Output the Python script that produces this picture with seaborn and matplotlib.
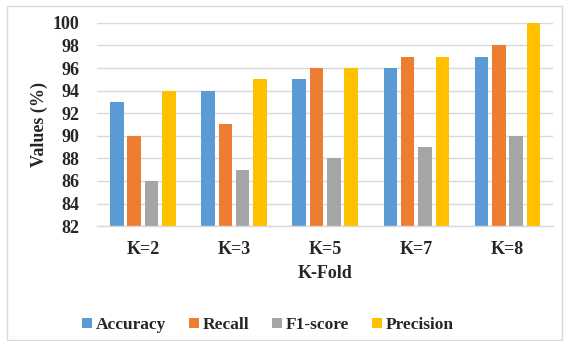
import matplotlib
matplotlib.use("Agg")
import matplotlib.pyplot as plt
import seaborn as sns
import pandas as pd
from matplotlib.patches import Rectangle

categories = ["K=2", "K=3", "K=5", "K=7", "K=8"]
accuracy = [93, 94, 95, 96, 97]
recall = [90, 91, 96, 97, 98]
f1_score = [86, 87, 88, 89, 90]
precision = [94, 95, 96, 97, 100]
series_names = ["Accuracy", "Recall", "F1-score", "Precision"]
colors = ["#5B9BD5", "#ED7D31", "#A5A5A5", "#FFC000"]

rows = []
for name, vals in zip(series_names, [accuracy, recall, f1_score, precision]):
    for c, v in zip(categories, vals):
        rows.append({"K": c, "Metric": name, "Value": v})
df = pd.DataFrame(rows)

sns.set_theme(style="white")
plt.rcParams["font.family"] = ["Liberation Serif", "DejaVu Serif"]
plt.rcParams["font.weight"] = "bold"

fig = plt.figure(figsize=(5.65, 3.41), dpi=100)
ax = fig.add_axes([0.172, 0.337, 0.807, 0.596])

sns.barplot(data=df, x="K", y="Value", hue="Metric", hue_order=series_names,
            palette=colors, order=categories, width=0.76, gap=0.22,
            ax=ax, saturation=1, legend=True, linewidth=0)

ax.set_ylim(82, 100)
ax.set_yticks(range(82, 101, 2))
ax.yaxis.grid(True, color="#D9D9D9", linewidth=1)
ax.set_axisbelow(True)
for s in ["top", "right", "left"]:
    ax.spines[s].set_visible(False)
ax.spines["bottom"].set_color("#D9D9D9")
ax.spines["bottom"].set_linewidth(1)
ax.tick_params(axis="y", length=0, labelsize=13, pad=13)
ax.tick_params(axis="x", length=0, labelsize=13, pad=11)
for lab in ax.get_xticklabels() + ax.get_yticklabels():
    lab.set_fontweight("bold")
ax.set_xlabel("K-Fold", fontsize=13, fontweight="bold", labelpad=5)
ax.set_ylabel("Values (%)", fontsize=13, fontweight="bold", labelpad=3)

leg = ax.legend(loc="upper center", bbox_to_anchor=(0.375, -0.37), ncol=4,
                frameon=False, handlelength=0.55, handleheight=0.55,
                handletextpad=0.25, columnspacing=1.3,
                prop={"family": "Liberation Serif", "weight": "bold", "size": 12.5})

fig.patches.append(Rectangle((7/565, 0.003), 0.995 - 7/565, 0.98, transform=fig.transFigure,
                             fill=False, edgecolor="#D9D9D9", linewidth=1))

fig.savefig("out.png", dpi=100)
